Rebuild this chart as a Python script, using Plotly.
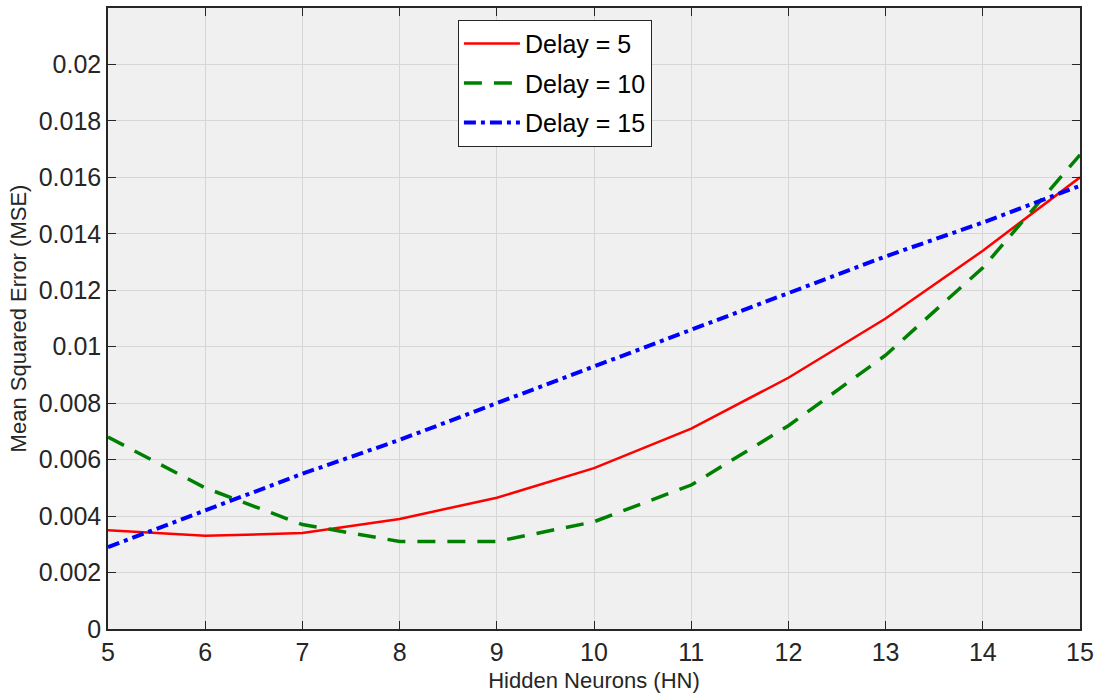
import plotly.graph_objects as go

hidden_neurons = [5, 6, 7, 8, 9, 10, 11, 12, 13, 14, 15]
mse_delay5 = [0.0035, 0.0033, 0.0034, 0.0039, 0.00465, 0.0057, 0.0071, 0.0089, 0.0110, 0.0134, 0.0160]
mse_delay10 = [0.0068, 0.0050, 0.0037, 0.0031, 0.0031, 0.0038, 0.0051, 0.0072, 0.0097, 0.0128, 0.0168]
mse_delay15 = [0.0029, 0.0042, 0.0055, 0.0067, 0.0080, 0.0093, 0.0106, 0.0119, 0.0132, 0.0144, 0.0157]
y_tick_vals = [0, 0.002, 0.004, 0.006, 0.008, 0.01, 0.012, 0.014, 0.016, 0.018, 0.02]
y_tick_text = ["0", "0.002", "0.004", "0.006", "0.008", "0.01", "0.012", "0.014", "0.016", "0.018", "0.02"]

FONT = "Liberation Sans, Arial"

fig = go.Figure()
fig.add_trace(go.Scatter(x=hidden_neurons, y=mse_delay5, mode="lines", name="Delay = 5",
                         legendgroup="a", line=dict(color="#ff0000", width=2.5)))
fig.add_trace(go.Scatter(x=hidden_neurons, y=mse_delay10, mode="lines", name="Delay = 10",
                         legendgroup="b", line=dict(color="#008000", width=3.5, dash="18px,12px")))
fig.add_trace(go.Scatter(x=hidden_neurons, y=mse_delay15, mode="lines", name="Delay = 15",
                         legendgroup="c", line=dict(color="#0000ff", width=4, dash="12px,5px,4px,5px")))

axis_common = dict(
    showgrid=True, gridcolor="#d6d6d6", gridwidth=1,
    showline=True, linecolor="#262626", linewidth=1.5, mirror="ticks",
    ticks="inside", ticklen=8, tickcolor="#262626",
    tickfont=dict(family=FONT, size=25, color="#262626"),
    zeroline=False,
)

fig.update_xaxes(range=[5, 15], tickvals=hidden_neurons,
                 title=dict(text="Hidden Neurons (HN)", font=dict(family=FONT, size=22, color="#262626"), standoff=8),
                 **axis_common)
fig.update_yaxes(range=[0, 0.022], tickvals=y_tick_vals, ticktext=y_tick_text,
                 title=dict(text="Mean Squared Error (MSE)", font=dict(family=FONT, size=22, color="#262626"), standoff=6),
                 **axis_common)

fig.update_layout(
    width=1100, height=697,
    margin=dict(l=108, r=17, t=6, b=68),
    paper_bgcolor="white", plot_bgcolor="#f0f0f0",
    showlegend=True,
    legend=dict(x=0.36, y=0.981, xanchor="left", yanchor="top",
                bgcolor="white", bordercolor="#262626", borderwidth=1,
                font=dict(family=FONT, size=25, color="#000000"),
                traceorder="grouped", itemwidth=56, tracegroupgap=4,
                entrywidth=225, entrywidthmode="pixels"),
)

fig.write_html("out.html")
